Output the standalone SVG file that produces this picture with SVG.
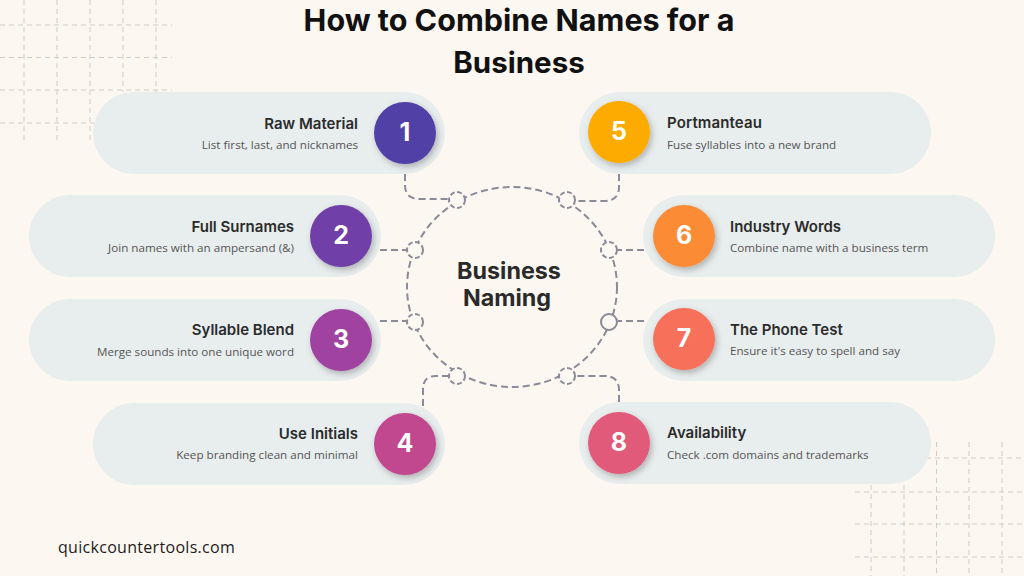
<svg xmlns="http://www.w3.org/2000/svg" width="1024" height="576" viewBox="0 0 1024 576">
<defs>
<filter id="sh" x="-30%" y="-30%" width="160%" height="160%"><feDropShadow dx="2" dy="3" stdDeviation="3" flood-color="#000" flood-opacity="0.25"/></filter>
</defs>
<style>
text{font-family:"Open Sans","Liberation Sans",sans-serif}
.title{font-family:"Inter","Liberation Sans",sans-serif;font-size:30.500px;font-weight:700;fill:#111;text-anchor:middle}
.center{font-family:"Inter","Liberation Sans",sans-serif;font-size:23.300px;font-weight:700;fill:#2a2a2a;text-anchor:middle}
.pill{fill:#e8eded}
.h{font-family:"Inter","Liberation Sans",sans-serif;font-size:15px;font-weight:600;fill:#2b2b2b}
.d{font-size:11.650px;fill:#555}
.r{text-anchor:end}
.num{font-family:"Inter","Liberation Sans",sans-serif;font-size:25px;font-weight:700;fill:#fff;text-anchor:middle}
.grid{stroke:#c9c5c0;stroke-width:.9;stroke-dasharray:5 4;fill:none}
.conn{stroke:#8a8a98;stroke-width:2;stroke-dasharray:7 4;fill:none}
.ring{stroke:#8a8a98;stroke-width:2;stroke-dasharray:5 2.500;fill:#fdf8f2}
.foot{font-family:"Open Sans","Liberation Sans",sans-serif;font-size:16px;fill:#1c1c1c;letter-spacing:.3px}
</style>
<rect width="1024" height="576" fill="#fdf7f1"/>
<g id="grid-top-left" class="grid">
<path d="M0 25H172M0 57.500H172M0 90H172M0 123H100"/>
<path d="M24 0V140M57 0V140M90 0V140M123 0V92M156 0V92"/>
</g>
<g id="grid-bottom-right" class="grid">
<path d="M926 458H1024M855 492H1024M855 524H1024M855 557H1024"/>
<path d="M871 485V576M904 485V576M936.500 442V576M969 442V576M1002 442V576"/>
</g>
<text class="title" x="519" y="31">How to Combine Names for a</text>
<text class="title" x="519" y="73" style="font-size:29.500px">Business</text>
<g id="connectors">
<ellipse cx="512" cy="287" rx="105" ry="100" class="conn"/>
<path class="conn" d="M405 174V185Q405 199 420 199H448"/>
<path class="conn" d="M619 174V187Q619 201 604 201H576"/>
<path class="conn" d="M380 250H406"/>
<path class="conn" d="M644 250H618"/>
<path class="conn" d="M380 321H406"/>
<path class="conn" d="M644 321H618"/>
<path class="conn" d="M423 406V389Q423 376 436 376H448"/>
<path class="conn" d="M619 402V390Q619 376 604 376H576"/>
<circle class="ring" cx="457" cy="200" r="8"/>
<circle class="ring" cx="567" cy="200" r="8"/>
<circle class="ring" cx="415" cy="250" r="8"/>
<circle class="ring" cx="609" cy="250" r="8"/>
<circle class="ring" cx="415" cy="322" r="8"/>
<circle cx="609" cy="322" r="8" fill="#fdf8f2" stroke="#8a8a98" stroke-width="2"/>
<circle class="ring" cx="457" cy="376" r="8"/>
<circle class="ring" cx="567" cy="376" r="8"/>
</g>
<g id="center">
<text class="center" x="509" y="279">Business</text>
<text class="center" x="507" y="306">Naming</text>
</g>
<g id="node-1">
<rect class="pill" x="93" y="92" width="352" height="82" rx="41"/>
<circle cx="405" cy="133" r="31" fill="#5140a6" filter="url(#sh)"/>
<text class="num" x="405" y="141">1</text>
<text class="h r" x="358" y="129">Raw Material</text>
<text class="d r" x="358" y="149">List first, last, and nicknames</text>
</g>
<g id="node-2">
<rect class="pill" x="29" y="195" width="352" height="82" rx="41"/>
<circle cx="341" cy="236" r="31" fill="#6f40a8" filter="url(#sh)"/>
<text class="num" x="341" y="244">2</text>
<text class="h r" x="294" y="232">Full Surnames</text>
<text class="d r" x="294" y="252">Join names with an ampersand (&amp;)</text>
</g>
<g id="node-3">
<rect class="pill" x="29" y="299" width="352" height="82" rx="41"/>
<circle cx="341" cy="340" r="31" fill="#a0429f" filter="url(#sh)"/>
<text class="num" x="341" y="348">3</text>
<text class="h r" x="294" y="335">Syllable Blend</text>
<text class="d r" x="294" y="356">Merge sounds into one unique word</text>
</g>
<g id="node-4">
<rect class="pill" x="93" y="403" width="352" height="82" rx="41"/>
<circle cx="405" cy="444" r="31" fill="#c1478f" filter="url(#sh)"/>
<text class="num" x="405" y="452">4</text>
<text class="h r" x="358" y="439">Use Initials</text>
<text class="d r" x="358" y="459">Keep branding clean and minimal</text>
</g>
<g id="node-5">
<rect class="pill" x="579" y="92" width="352" height="82" rx="41"/>
<circle cx="619" cy="132" r="31" fill="#fdab00" filter="url(#sh)"/>
<text class="num" x="619" y="140">5</text>
<text class="h" x="667" y="128" textLength="95">Portmanteau</text>
<text class="d" x="667" y="149">Fuse syllables into a new brand</text>
</g>
<g id="node-6">
<rect class="pill" x="643" y="195" width="352" height="82" rx="41"/>
<circle cx="684" cy="236" r="31" fill="#fb8b36" filter="url(#sh)"/>
<text class="num" x="684" y="244">6</text>
<text class="h" x="730" y="232">Industry Words</text>
<text class="d" x="730" y="252">Combine name with a business term</text>
</g>
<g id="node-7">
<rect class="pill" x="643" y="299" width="352" height="82" rx="41"/>
<circle cx="684" cy="339" r="31" fill="#f6705a" filter="url(#sh)"/>
<text class="num" x="684" y="347">7</text>
<text class="h" x="730" y="335">The Phone Test</text>
<text class="d" x="730" y="355">Ensure it's easy to spell and say</text>
</g>
<g id="node-8">
<rect class="pill" x="579" y="402" width="352" height="82" rx="41"/>
<circle cx="619" cy="443" r="31" fill="#e25a7a" filter="url(#sh)"/>
<text class="num" x="619" y="451">8</text>
<text class="h" x="667" y="438">Availability</text>
<text class="d" x="667" y="459">Check .com domains and trademarks</text>
</g>
<text class="foot" x="58" y="553">quickcountertools.com</text>
</svg>
